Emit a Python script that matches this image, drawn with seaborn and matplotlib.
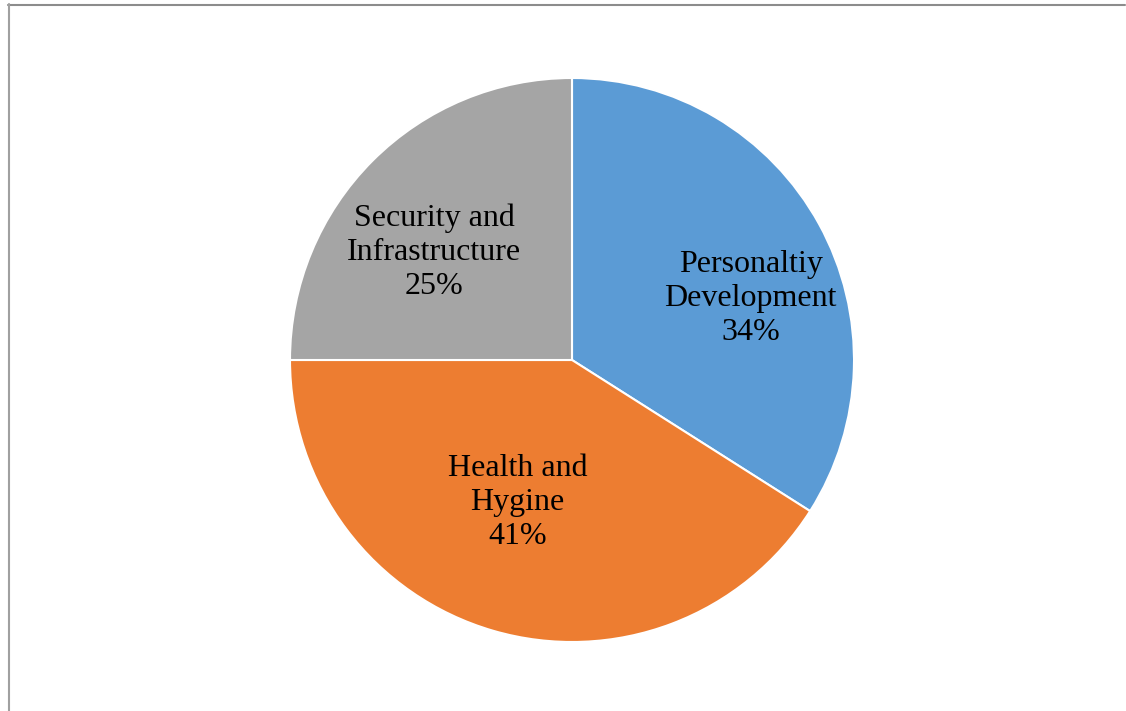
import matplotlib
matplotlib.use("Agg")
import matplotlib.pyplot as plt
import seaborn as sns
import numpy as np

categories = ["Personaltiy\nDevelopment", "Health and\nHygine", "Security and\nInfrastructure"]
values = [34, 41, 25]
colors = ["#5B9BD5", "#ED7D31", "#A5A5A5"]
# label placement (angle in degrees, radius fraction)
label_angles = [19.0, -111.0, 142.0]
label_radii = [0.67, 0.54, 0.62]

sns.set_theme(style="white")
plt.rcParams['font.family'] = ['Liberation Serif', 'DejaVu Serif']

W, H = 1126, 711
fig = plt.figure(figsize=(W / 100, H / 100), dpi=100)
fig.patch.set_facecolor("white")

cx, cy, r = 572, 711 - 360, 282
ax = fig.add_axes([(cx - r) / W, (cy - r) / H, 2 * r / W, 2 * r / H])
ax.pie(values, colors=colors, startangle=90, counterclock=False, radius=1,
       wedgeprops=dict(edgecolor="white", linewidth=1.5))
ax.set_xlim(-1, 1)
ax.set_ylim(-1, 1)
ax.set_aspect("equal")
ax.axis("off")

for cat, v, a, rr in zip(categories, values, label_angles, label_radii):
    t = np.deg2rad(a)
    ax.text(rr * np.cos(t), rr * np.sin(t), f"{cat}\n{v}%", ha="center", va="center",
            fontsize=23, color="black", linespacing=1.22)

# figure frame lines (top and left)
fig.add_artist(plt.Line2D([8 / W, 1125 / W], [1 - 4.5 / H, 1 - 4.5 / H], color="#8c8c8c", lw=1.5,
                          transform=fig.transFigure))
fig.add_artist(plt.Line2D([8.5 / W, 8.5 / W], [0, 1 - 4 / H], color="#a0a0a0", lw=1.5,
                          transform=fig.transFigure))

fig.savefig("out.png", dpi=100)
